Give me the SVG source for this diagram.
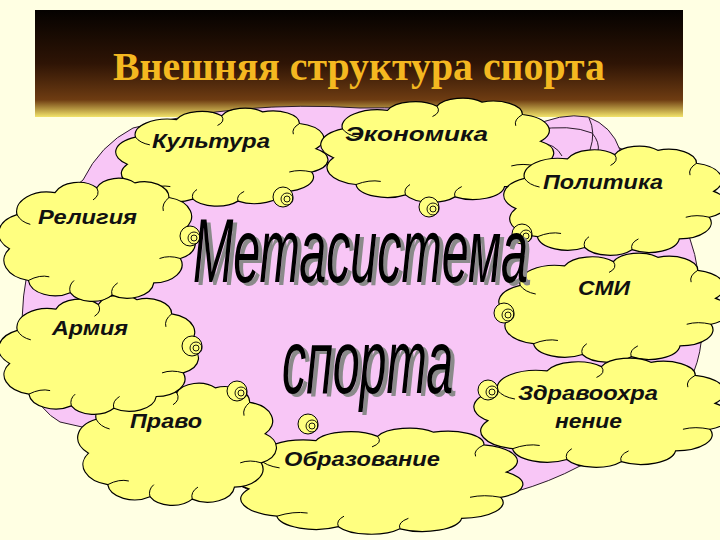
<svg xmlns="http://www.w3.org/2000/svg" xmlns:xlink="http://www.w3.org/1999/xlink" width="720" height="540" viewBox="0 0 720 540">
<style>
.cl{fill:#FFFF80;stroke:#000;stroke-width:1.2;vector-effect:non-scaling-stroke}
.ci{fill:none;stroke:#000;stroke-width:1;vector-effect:non-scaling-stroke}
.lb{font-family:"Liberation Sans",Arial,sans-serif;font-weight:bold;font-style:italic;font-size:21px;fill:#111}
.big{font-family:"Liberation Sans",Arial,sans-serif;font-style:italic;font-size:90px}
.bb{fill:#FFFF80;stroke:#000;stroke-width:1}
.bi{fill:none;stroke:#000;stroke-width:0.9}
.pk{fill:#F8C6F6;stroke:#2a1a2a;stroke-width:1}
.pl{fill:none;stroke:#2a1a2a;stroke-width:1}
</style>
<defs>
<linearGradient id="tg" x1="0" y1="0" x2="0" y2="1">
<stop offset="0" stop-color="#050200"/>
<stop offset="0.5" stop-color="#2e1405"/>
<stop offset="0.84" stop-color="#6e3c12"/>
<stop offset="1" stop-color="#f2e46a"/>
</linearGradient>
<g id="cloud">
<path class="cl" d="M6,58 A17,17 0 0 1 10,30 A16,16 0 0 1 30,12 A13,13 0 0 1 52,8 A12,12 0 0 1 72,4 A13,13 0 0 1 90,16 A16,16 0 0 1 98,42 A14,14 0 0 1 96,66 A15,15 0 0 1 82,86 A14,14 0 0 1 60,96 A13,13 0 0 1 38,94 A14,14 0 0 1 16,84 A17,17 0 0 1 6,58 Z"/>
<path class="ci" d="M10,30 Q12,36 17,38 M52,8 Q54,14 50,18 M90,16 Q86,21 87,27 M96,66 Q90,63 85,66 M60,96 Q59,90 63,86 M16,84 Q22,79 27,81 M38,94 Q37,88 40,84"/>
</g>
<g id="bub">
<circle class="bb" cx="0" cy="0" r="10"/>
<circle class="bi" cx="4" cy="2" r="6"/>
<circle class="bi" cx="4" cy="2" r="3"/>
</g>
</defs>
<rect x="0" y="0" width="720" height="540" fill="#FFFFE3"/>
<g id="title">
<rect x="35" y="10" width="648" height="107" fill="url(#tg)"/>
<text x="113" y="80" font-family="'Liberation Serif','Times New Roman',serif" font-weight="bold" font-size="40" fill="#F4B820" textLength="492" lengthAdjust="spacingAndGlyphs">Внешняя структура спорта</text>
</g>
<g id="metasystem-bg">
<path class="pk" d="M133,128 Q240,100 360,108 Q560,105 640,160 Q705,220 702,330 Q700,420 580,466 Q520,498 440,505 L280,505 Q150,440 60,422 Q20,400 22,320 Q25,220 83,180 Q100,145 133,128 Z"/>
<path class="pk" d="M530,128 Q560,112 588,117 Q612,126 620,150 Q622,162 600,170 L540,170 Z"/>
<path class="pl" d="M535,130 Q570,124 592,133 Q600,142 598,152 M538,142 Q556,144 562,156 M589,118 Q596,132 590,150"/>
</g>
<g id="kultura"><use xlink:href="#cloud" transform="translate(115,108) scale(2.05,0.97)"/><text class="lb" x="152" y="148" textLength="118" lengthAdjust="spacingAndGlyphs">Культура</text></g>
<g id="ekonomika"><use xlink:href="#cloud" transform="translate(320,98) scale(2.25,1.03)"/><text class="lb" x="345" y="141" textLength="143" lengthAdjust="spacingAndGlyphs">Экономика</text></g>
<g id="politika"><use xlink:href="#cloud" transform="translate(503,146) scale(2.15,1.08)"/><text class="lb" x="543" y="189" textLength="120" lengthAdjust="spacingAndGlyphs">Политика</text></g>
<g id="smi"><use xlink:href="#cloud" transform="translate(498,253) scale(2.22,1.08)"/><text class="lb" x="578" y="295" textLength="52" lengthAdjust="spacingAndGlyphs">СМИ</text></g>
<g id="zdravoohranenie"><use xlink:href="#cloud" transform="translate(473,358) scale(2.47,1.08)"/><text class="lb" x="518" y="400" textLength="140" lengthAdjust="spacingAndGlyphs">Здравоохра</text><text class="lb" x="555" y="428" textLength="67" lengthAdjust="spacingAndGlyphs">нение</text></g>
<g id="obrazovanie"><use xlink:href="#cloud" transform="translate(232,428) scale(2.8,1.05)"/><text class="lb" x="284" y="466" textLength="156" lengthAdjust="spacingAndGlyphs">Образование</text></g>
<g id="pravo"><use xlink:href="#cloud" transform="translate(77,383) scale(1.92,1.21)"/><text class="lb" x="130" y="428" textLength="72" lengthAdjust="spacingAndGlyphs">Право</text></g>
<g id="armiya"><use xlink:href="#cloud" transform="translate(-2,295) scale(1.93,1.18)"/><text class="lb" x="52" y="335" textLength="76" lengthAdjust="spacingAndGlyphs">Армия</text></g>
<g id="religiya"><use xlink:href="#cloud" transform="translate(-2,178) scale(1.9,1.22)"/><text class="lb" x="38" y="224" textLength="99" lengthAdjust="spacingAndGlyphs">Религия</text></g>
<g id="connectors">
<use xlink:href="#bub" x="283" y="197"/>
<use xlink:href="#bub" x="429" y="207"/>
<use xlink:href="#bub" x="190" y="236"/>
<use xlink:href="#bub" x="522" y="234"/>
<use xlink:href="#bub" x="504" y="313"/>
<use xlink:href="#bub" x="192" y="346"/>
<use xlink:href="#bub" x="237" y="391"/>
<use xlink:href="#bub" x="308" y="424"/>
<use xlink:href="#bub" x="488" y="390"/>
</g>
<g id="center-title">
<text class="big" x="197" y="285" fill="#8a8a8a" textLength="335" lengthAdjust="spacingAndGlyphs">Метасистема</text>
<text class="big" x="193" y="282" fill="#000" textLength="335" lengthAdjust="spacingAndGlyphs">Метасистема</text>
<text class="big" x="286" y="396" fill="#8a8a8a" textLength="171" lengthAdjust="spacingAndGlyphs">спорта</text>
<text class="big" x="282" y="393" fill="#000" textLength="171" lengthAdjust="spacingAndGlyphs">спорта</text>
</g>
</svg>
